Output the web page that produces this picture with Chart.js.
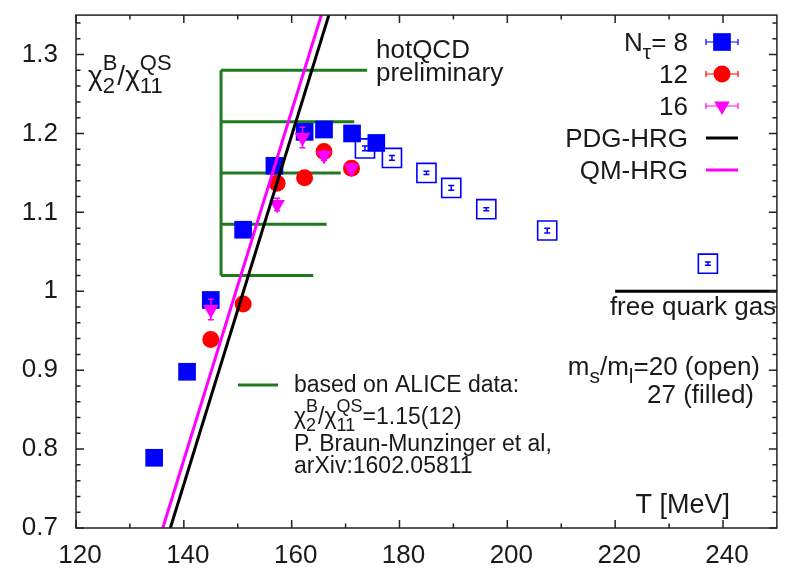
<!DOCTYPE html>
<html>
<head>
<meta charset="utf-8">
<script src="https://cdn.jsdelivr.net/npm/chart.js@4"></script>
<style>
  html, body { margin: 0; padding: 0; background: #fff; }
</style>
</head>
<body>
<canvas id="chart" width="792" height="570"></canvas>
<script>
const FONT = '"Liberation Sans", Arial, sans-serif'
const TEXT = '#1a1a1a'

// axis ticks
const xTicks = [120, 140, 160, 180, 200, 220, 240]
const yTicks = [0.7, 0.8, 0.9, 1.0, 1.1, 1.2, 1.3]

// N_tau = 8, m_s/m_l = 27 (filled)
const nt8T   = [134.5, 140.6, 145.0, 151.0, 156.8, 162.4, 166.0, 171.2, 175.7]
const nt8Val = [0.789, 0.898, 0.989, 1.078, 1.159, 1.202, 1.205, 1.200, 1.188]
// N_tau = 8, m_s/m_l = 20 (open)
const nt8OpenT   = [173.6, 178.6, 185.0, 189.6, 196.1, 207.4, 237.2]
const nt8OpenVal = [1.181, 1.169, 1.150, 1.131, 1.104, 1.077, 1.035]
const nt8OpenErr = [0.003, 0.003, 0.002, 0.003, 0.002, 0.003, 0.002]
// N_tau = 12
const nt12T   = [145.0, 151.0, 157.3, 162.4, 166.0, 171.1]
const nt12Val = [0.939, 0.984, 1.137, 1.144, 1.177, 1.156]
// N_tau = 16
const nt16T   = [145.0, 157.3, 162.0, 166.0, 171.1]
const nt16Val = [0.977, 1.110, 1.195, 1.172, 1.156]
const nt16Err = [0.013, 0.008, 0.013, 0.006, 0.006]
// HRG curves
const pdgT   = [137.5, 166.9]
const pdgVal = [0.70, 1.35]
const qmT    = [136.1, 165.5]
const qmVal  = [0.70, 1.35]
// ALICE band
const aliceT   = 146.9
const aliceVal = [1.28, 1.215, 1.15, 1.085, 1.02]
const aliceEnd = [174.0, 171.6, 169.1, 166.5, 164.0]
// free quark gas limit
const freeT   = [220, 250]
const freeVal = [1, 1]

const BLUE = '#0000ff'
const RED = '#ff0000'
const MAGENTA = '#ff00ff'
const GREEN = '#1f7a1f'

function pts(xs, ys) {
    return xs.map((x, i) => ({ x: x, y: ys[i] }))
}

function aliceComb() {
    const d = [{ x: aliceT, y: aliceVal[0] }, { x: aliceT, y: aliceVal[aliceVal.length - 1] }, { x: aliceT, y: null }]
    aliceVal.forEach((v, i) => {
        d.push({ x: aliceT, y: v }, { x: aliceEnd[i], y: v }, { x: aliceEnd[i], y: null })
    })
    return d
}

// text with stacked sub/superscripts, gnuplot style
function drawRich(ctx, x, y, parts, size, align) {
    const small = Math.round(size * 0.8)
    const widths = parts.map(p => {
        if (typeof p === 'string') {
            ctx.font = size + 'px ' + FONT
            return ctx.measureText(p).width
        }
        ctx.font = small + 'px ' + FONT
        return Math.max(ctx.measureText(p.sub || '').width, ctx.measureText(p.sup || '').width)
    })
    const total = widths.reduce((a, b) => a + b, 0)
    let cx = align === 'right' ? x - total : (align === 'center' ? x - total / 2 : x)
    ctx.textAlign = 'left'
    ctx.textBaseline = 'alphabetic'
    parts.forEach((p, i) => {
        if (typeof p === 'string') {
            ctx.font = size + 'px ' + FONT
            ctx.fillText(p, cx, y)
        } else {
            ctx.font = small + 'px ' + FONT
            if (p.sup) ctx.fillText(p.sup, cx, y - size * 0.52)
            if (p.sub) ctx.fillText(p.sub, cx, y + size * 0.3)
        }
        cx += widths[i]
    })
}

const errorBars = {
    id: 'errorBars',
    afterDatasetDraw(chart, args) {
        const ds = chart.data.datasets[args.index]
        if (!ds.errors) return
        const ctx = chart.ctx
        const xs = chart.scales.x, ys = chart.scales.y
        ctx.save()
        ctx.strokeStyle = ds.errColor
        ctx.lineWidth = 1.5
        ds.data.forEach((p, i) => {
            const px = xs.getPixelForValue(p.x)
            const y1 = ys.getPixelForValue(p.y - ds.errors[i])
            const y2 = ys.getPixelForValue(p.y + ds.errors[i])
            ctx.beginPath()
            ctx.moveTo(px, y1); ctx.lineTo(px, y2)
            ctx.moveTo(px - 3, y1); ctx.lineTo(px + 3, y1)
            ctx.moveTo(px - 3, y2); ctx.lineTo(px + 3, y2)
            ctx.stroke()
        })
        ctx.restore()
    }
}

const frame = {
    id: 'frame',
    afterDraw(chart) {
        const ctx = chart.ctx
        const a = chart.chartArea
        const xs = chart.scales.x, ys = chart.scales.y
        ctx.save()
        ctx.strokeStyle = '#222'
        ctx.lineWidth = 1.5
        ctx.beginPath()
        // x ticks, every 10, major on the labelled ones
        for (let v = 120; v < 250; v += 10) {
            const px = xs.getPixelForValue(v)
            const len = xTicks.includes(v) ? 8 : 4.5
            ctx.moveTo(px, a.bottom); ctx.lineTo(px, a.bottom - len)
            ctx.moveTo(px, a.top); ctx.lineTo(px, a.top + len)
        }
        // y ticks, every 0.02
        for (let k = 0; k <= 32; k++) {
            const v = 0.7 + k * 0.02
            const py = ys.getPixelForValue(v)
            const len = (k % 5 === 0) ? 8 : 4.5
            ctx.moveTo(a.left, py); ctx.lineTo(a.left + len, py)
            ctx.moveTo(a.right, py); ctx.lineTo(a.right - len, py)
        }
        ctx.stroke()
        ctx.strokeRect(a.left, a.top, a.right - a.left, a.bottom - a.top)
        ctx.restore()
    }
}

const annotations = {
    id: 'annotations',
    afterDraw(chart) {
        const ctx = chart.ctx
        const H = Chart.helpers
        ctx.save()
        ctx.fillStyle = TEXT

        // y label
        drawRich(ctx, 88, 85, ['χ', { sub: '2', sup: 'B' }, '/', 'χ', { sub: '11', sup: 'QS' }], 28)

        // hotQCD
        drawRich(ctx, 376, 58, ['hotQCD'], 26)
        drawRich(ctx, 376, 81, ['preliminary'], 26)

        // legend
        const lx = 688, sx0 = 706, sx1 = 738, sc = 722
        const rows = [
            { y: 42, text: ['N', { sub: 'τ' }, '= 8'], color: BLUE, style: 'rect', r: 12.5, rot: 0 },
            { y: 74, text: ['12'], color: RED, style: 'circle', r: 8.5, rot: 0 },
            { y: 106, text: ['16'], color: MAGENTA, style: 'triangle', r: 9, rot: 180 },
            { y: 138, text: ['PDG-HRG'], color: '#000', line: true },
            { y: 170, text: ['QM-HRG'], color: MAGENTA, line: true }
        ]
        rows.forEach(r => {
            ctx.fillStyle = TEXT
            drawRich(ctx, lx, r.y + 9, r.text, 26, 'right')
            ctx.strokeStyle = r.color
            ctx.fillStyle = r.color
            if (r.line) {
                ctx.lineWidth = 3
                ctx.beginPath(); ctx.moveTo(sx0, r.y); ctx.lineTo(sx1, r.y); ctx.stroke()
            } else {
                ctx.lineWidth = 1.2
                ctx.beginPath()
                ctx.moveTo(sx0, r.y); ctx.lineTo(sx1, r.y)
                ctx.moveTo(sx0, r.y - 3); ctx.lineTo(sx0, r.y + 3)
                ctx.moveTo(sx1, r.y - 3); ctx.lineTo(sx1, r.y + 3)
                ctx.stroke()
                H.drawPoint(ctx, { pointStyle: r.style, radius: r.r, rotation: r.rot, borderWidth: 0 }, sc, r.y)
            }
        })

        // free quark gas
        ctx.fillStyle = TEXT
        drawRich(ctx, 693, 315, ['free quark gas'], 26, 'center')

        // mass ratio note
        drawRich(ctx, 760, 375, ['m', { sub: 's' }, '/m', { sub: 'l' }, '=20 (open)'], 26, 'right')
        drawRich(ctx, 754, 403, ['27 (filled)'], 26, 'right')

        // ALICE note
        ctx.strokeStyle = GREEN
        ctx.lineWidth = 3
        ctx.beginPath(); ctx.moveTo(238, 385); ctx.lineTo(278, 385); ctx.stroke()
        ctx.fillStyle = TEXT
        drawRich(ctx, 294, 392, ['based on ALICE data:'], 23)
        drawRich(ctx, 294, 424, ['χ', { sub: '2', sup: 'B' }, '/', 'χ', { sub: '11', sup: 'QS' }, '=1.15(12)'], 23)
        drawRich(ctx, 294, 451, ['P. Braun-Munzinger et al,'], 23)
        drawRich(ctx, 294, 473, ['arXiv:1602.05811'], 23)

        // x label
        drawRich(ctx, 730, 513, ['T [MeV]'], 27, 'right')
        ctx.restore()
    }
}

new Chart(document.getElementById('chart').getContext('2d'), {
    type: 'scatter',
    data: {
        datasets: [
            {
                label: 'QM-HRG', data: pts(qmT, qmVal), showLine: true, order: 0,
                borderColor: MAGENTA, borderWidth: 3, pointRadius: 0
            },
            {
                label: 'PDG-HRG', data: pts(pdgT, pdgVal), showLine: true, order: 1,
                borderColor: '#000', borderWidth: 3, pointRadius: 0
            },
            {
                label: 'Ntau=16', data: pts(nt16T, nt16Val), order: 2,
                errors: nt16Err, errColor: MAGENTA,
                pointStyle: 'triangle', rotation: 180, pointRadius: 9,
                backgroundColor: MAGENTA, borderWidth: 0
            },
            {
                label: 'Ntau=12', data: pts(nt12T, nt12Val), order: 3,
                pointStyle: 'circle', pointRadius: 8.5,
                backgroundColor: RED, borderWidth: 0
            },
            {
                label: 'Ntau=8 (27)', data: pts(nt8T, nt8Val), order: 4,
                pointStyle: 'rect', pointRadius: 12.5,
                backgroundColor: BLUE, borderWidth: 0
            },
            {
                label: 'Ntau=8 (20)', data: pts(nt8OpenT, nt8OpenVal), order: 5,
                errors: nt8OpenErr, errColor: BLUE,
                pointStyle: 'rect', pointRadius: 13.5,
                backgroundColor: 'rgba(0,0,0,0)', borderColor: BLUE, borderWidth: 1.6
            },
            {
                label: 'free quark gas', data: pts(freeT, freeVal), showLine: true, order: 6,
                borderColor: '#000', borderWidth: 3, pointRadius: 0
            },
            {
                label: 'ALICE', data: aliceComb(), showLine: true, spanGaps: false, order: 7,
                borderColor: GREEN, borderWidth: 3, pointRadius: 0
            }
        ]
    },
    options: {
        responsive: false,
        animation: false,
        layout: { padding: { top: 9, right: 10, left: 0, bottom: 0 } },
        plugins: { legend: { display: false }, tooltip: { enabled: false } },
        scales: {
            x: {
                type: 'linear', min: 120, max: 250,
                afterBuildTicks: s => { s.ticks = xTicks.map(v => ({ value: v })) },
                afterFit: s => { s.height = 42; s.paddingLeft = 0; s.paddingRight = 0 },
                grid: { display: false, drawTicks: false },
                border: { display: false },
                ticks: { font: { size: 26, family: FONT }, color: TEXT, padding: 12, labelOffset: 4, maxRotation: 0, autoSkip: false }
            },
            y: {
                type: 'linear', min: 0.7, max: 1.35,
                afterBuildTicks: s => { s.ticks = yTicks.map(v => ({ value: v })) },
                afterFit: s => { s.width = 76; s.paddingTop = 0; s.paddingBottom = 0 },
                grid: { display: false, drawTicks: false },
                border: { display: false },
                ticks: {
                    font: { size: 26, family: FONT }, color: TEXT, padding: 18, autoSkip: false,
                    callback: v => String(+v.toFixed(2))
                }
            }
        }
    },
    plugins: [errorBars, frame, annotations]
})
</script>
</body>
</html>
